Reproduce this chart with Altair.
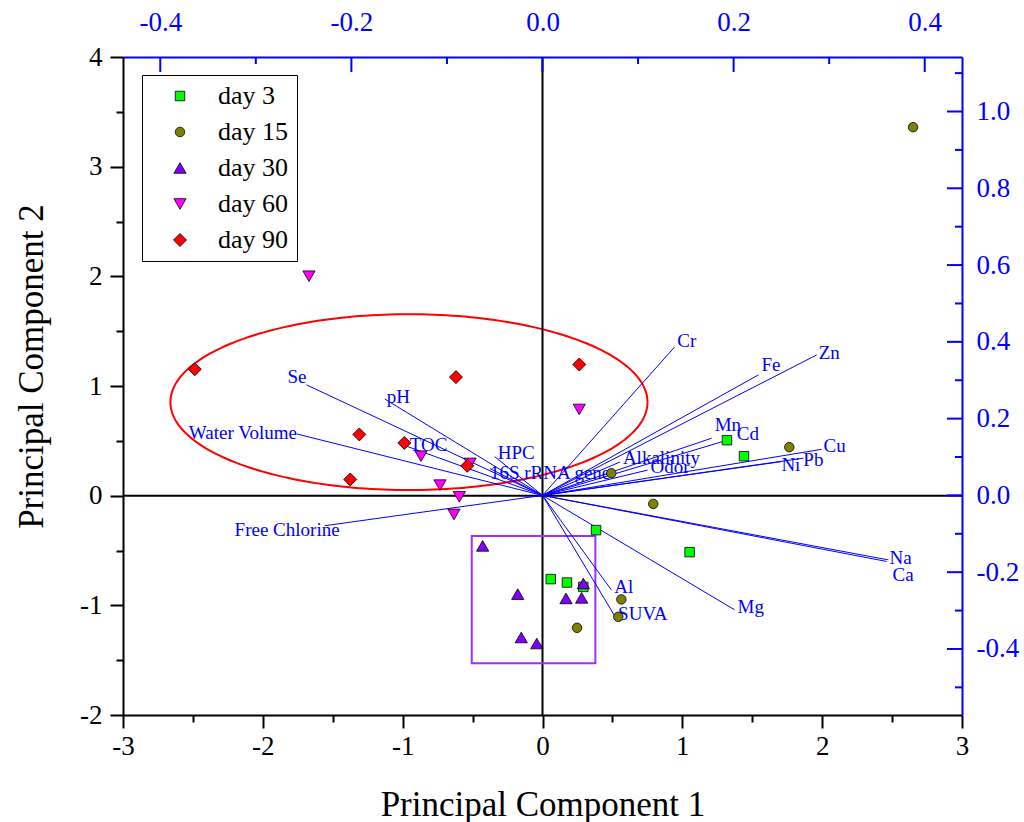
import altair as alt
import numpy as np
import pandas as pd

# ---------------- sample scores (PC1, PC2) by sampling day ----------------
DAYS = ["day 3", "day 15", "day 30", "day 60", "day 90"]
DAY3_PC1 = [1.319, 1.441, 0.383, 1.052, 0.059, 0.175, 0.292]
DAY3_PC2 = [0.506, 0.360, -0.314, -0.515, -0.761, -0.792, -0.832]
DAY15_PC1 = [2.650, 1.765, 0.492, 0.792, 0.564, 0.542, 0.247]
DAY15_PC2 = [3.360, 0.442, 0.205, -0.075, -0.946, -1.105, -1.205]
DAY30_PC1 = [-0.428, -0.177, -0.152, -0.041, 0.168, 0.280, 0.292]
DAY30_PC2 = [-0.458, -0.898, -1.293, -1.348, -0.937, -0.932, -0.801]
DAY60_PC1 = [-1.670, 0.263, -0.869, -0.518, -0.733, -0.595, -0.633]
DAY60_PC2 = [2.001, 0.786, 0.360, 0.294, 0.096, -0.011, -0.171]
DAY90_PC1 = [-2.487, -0.619, -1.310, -0.988, -0.538, -1.375, 0.263]
DAY90_PC2 = [1.153, 1.081, 0.558, 0.481, 0.272, 0.148, 1.196]

# ---------------- variable loadings (top / right axes) ----------------
VARIABLES = ["Se", "pH", "Water Volume", "TOC", "HPC", "16S rRNA gene",
             "Free Chlorine", "Cr", "Fe", "Zn", "Mn", "Cd", "Alkalinity",
             "Odor", "Cu", "Pb", "Ni", "Na", "Ca", "Mg", "Al", "SUVA"]
LOAD_PC1 = [-0.247, -0.165, -0.257, -0.141, -0.050, -0.055, -0.228, 0.138,
            0.226, 0.287, 0.177, 0.195, 0.081, 0.110, 0.292, 0.273, 0.250,
            0.362, 0.360, 0.201, 0.072, 0.076]
LOAD_PC2 = [0.288, 0.251, 0.160, 0.127, 0.101, 0.070, -0.079, 0.386, 0.314,
            0.366, 0.149, 0.145, 0.087, 0.066, 0.120, 0.097, 0.088, -0.168,
            -0.172, -0.298, -0.246, -0.316]

# ---------------- group outlines ----------------
ELLIPSE_CENTER = (-0.955, 0.853)
ELLIPSE_RADII = (1.706, 0.802)
BOX_PC1 = (-0.506, 0.378)
BOX_PC2 = (-0.367, -1.527)

# ---------------- axis tick values ----------------
BOTTOM_TICKS = [-3, -2.5, -2, -1.5, -1, -0.5, 0, 0.5, 1, 1.5, 2, 2.5, 3]
LEFT_TICKS = [-2, -1.5, -1, -0.5, 0, 0.5, 1, 1.5, 2, 2.5, 3, 3.5, 4]
TOP_MAJOR = [-0.4, -0.2, 0.0, 0.2, 0.4]
TOP_MINOR = [-0.3, -0.1, 0.1, 0.3]
RIGHT_MAJOR = [-0.4, -0.2, 0.0, 0.2, 0.4, 0.6, 0.8, 1.0]
RIGHT_MINOR = [-0.5, -0.3, -0.1, 0.1, 0.3, 0.5, 0.7, 0.9, 1.1]

# label placement around the arrow tips: (align, dx, dy)
LABEL_NUDGE = {
    "Se": ("right", 0, -8), "pH": ("left", 2, -2),
    "Water Volume": ("right", 0, -1), "TOC": ("left", 2, -2),
    "HPC": ("left", 3, -4), "16S rRNA gene": ("left", 0, 4),
    "Free Chlorine": ("right", 15, 4), "Cr": ("left", 3, -6),
    "Fe": ("left", 3, -10), "Zn": ("left", 2, -2), "Mn": ("left", 3, -13),
    "Cd": ("left", 8, -6), "Alkalinity": ("left", 3, -4),
    "Odor": ("left", 3, -3), "Cu": ("left", 2, -3), "Pb": ("left", 0, 2),
    "Ni": ("left", 0, 3), "Na": ("left", 1, -2), "Ca": ("left", 6, 14),
    "Mg": ("left", 3, -3), "Al": ("left", 3, -3), "SUVA": ("left", 3, -3),
}

SERIF = "Liberation Serif"
BLUE = "#0000FF"
W, H = 839, 658

COLORS = ["#00FF00", "#808000", "#8000FF", "#FF00FF", "#FF0000"]
SHAPES = ["square", "circle", "triangle-up", "triangle-down", "diamond"]
SIZES = [90, 90, 150, 150, 170]

# ---------------- tables ----------------
scores = pd.concat([
    pd.DataFrame({"day": d, "pc1": x, "pc2": y})
    for d, x, y in zip(DAYS,
                       [DAY3_PC1, DAY15_PC1, DAY30_PC1, DAY60_PC1, DAY90_PC1],
                       [DAY3_PC2, DAY15_PC2, DAY30_PC2, DAY60_PC2, DAY90_PC2])
], ignore_index=True)

loads = pd.DataFrame({"var": VARIABLES, "lx": LOAD_PC1, "ly": LOAD_PC2,
                      "x0": 0.0, "y0": 0.0})

t = np.linspace(0, 2 * np.pi, 241)
ellipse = pd.DataFrame({
    "i": np.arange(t.size),
    "ex": ELLIPSE_CENTER[0] + ELLIPSE_RADII[0] * np.cos(t),
    "ey": ELLIPSE_CENTER[1] + ELLIPSE_RADII[1] * np.sin(t),
})
box = pd.DataFrame({"bx1": [BOX_PC1[0]], "bx2": [BOX_PC1[1]],
                    "by1": [BOX_PC2[0]], "by2": [BOX_PC2[1]]})
zero = pd.DataFrame({"z": [0.0]})

# ---------------- scales & axes ----------------
X_MAIN = alt.Scale(domain=[-3, 3], nice=False, zero=False)
Y_MAIN = alt.Scale(domain=[-2, 4], nice=False, zero=False)
X_LOAD = alt.Scale(domain=[-0.439, 0.439], nice=False, zero=False)
Y_LOAD = alt.Scale(domain=[-0.572, 1.142], nice=False, zero=False)

MINOR = "abs(datum.value % 1) > 0.001"
INT_LABEL = ("abs(datum.value % 1) > 0.001 ? '' : "
             "(datum.value < 0 ? '-' + abs(datum.value) : '' + datum.value)")
DEC_LABEL = ("(datum.value < -0.0001 ? '-' : '') + "
             "format(abs(datum.value), '.1f')")
TICK_SIZE = {"condition": {"test": MINOR, "value": 7}, "value": 13}

common_black = dict(
    domainColor="black", domainWidth=2, tickColor="black", tickWidth=2,
    tickSize=TICK_SIZE, labelFont=SERIF, labelFontSize=27, labelColor="black",
    titleFont=SERIF, titleFontSize=35, titleFontWeight="normal",
    titleColor="black", grid=False, labelOverlap=False, labelFlush=False,
)
AX_BOTTOM = alt.Axis(orient="bottom", values=BOTTOM_TICKS, labelExpr=INT_LABEL,
                     labelPadding=5, title="Principal Component 1",
                     titleY=100, titleBaseline="alphabetic", **common_black)
AX_LEFT = alt.Axis(orient="left", values=LEFT_TICKS, labelExpr=INT_LABEL,
                   labelPadding=8, title="Principal Component 2",
                   titleX=-81, titleY=H / 2 - 20, titleBaseline="alphabetic",
                   **common_black)

common_blue = dict(
    domainColor=BLUE, domainWidth=2, ticks=False, tickSize=0,
    labelFont=SERIF, labelFontSize=27, labelColor=BLUE, labelExpr=DEC_LABEL,
    title=None, grid=False, labelOverlap=False, labelFlush=False,
)
AX_TOP = alt.Axis(orient="top", values=TOP_MAJOR, labelPadding=21, **common_blue)
AX_RIGHT = alt.Axis(orient="right", values=RIGHT_MAJOR, labelPadding=14,
                    **common_blue)


def xm(field):
    return alt.X(field, type="quantitative", scale=X_MAIN, axis=AX_BOTTOM)


def ym(field):
    return alt.Y(field, type="quantitative", scale=Y_MAIN, axis=AX_LEFT)


def xl(field):
    return alt.X(field, type="quantitative", scale=X_LOAD, axis=AX_TOP)


def yl(field):
    return alt.Y(field, type="quantitative", scale=Y_LOAD, axis=AX_RIGHT)


# ---------------- background: zero lines, ellipse, box ----------------
zero_v = alt.Chart(zero).mark_rule(color="black", strokeWidth=2).encode(x=xm("z"))
zero_h = alt.Chart(zero).mark_rule(color="black", strokeWidth=2).encode(y=ym("z"))
ell = alt.Chart(ellipse).mark_line(color="#FF0000", strokeWidth=2).encode(
    x=xm("ex"), y=ym("ey"), order="i:Q")
rect = alt.Chart(box).mark_rect(fill=None, stroke="#9B30FF", strokeWidth=2).encode(
    x=xm("bx1"), x2="bx2", y=ym("by1"), y2="by2")
background = alt.layer(ell, zero_v, zero_h, rect)

# ---------------- loadings: arrows, labels, blue axis ticks ----------------
vec = alt.Chart(loads).mark_rule(color=BLUE, strokeWidth=1).encode(
    x=xl("x0"), y=yl("y0"), x2="lx", y2="ly")

label_layers = []
for name in VARIABLES:
    align, dx, dy = LABEL_NUDGE[name]
    label_layers.append(
        alt.Chart(loads).transform_filter(alt.datum.var == name).mark_text(
            font=SERIF, fontSize=19, color=BLUE, align=align,
            baseline="middle", dx=dx, dy=dy,
        ).encode(x=xl("lx"), y=yl("ly"), text="var:N")
    )


def hticks(vals, length):
    return alt.Chart(pd.DataFrame({"v": vals})).mark_rule(
        color=BLUE, strokeWidth=2).encode(
        x=xl("v"), y=alt.value(0), y2=alt.value(length))


def vticks(vals, length):
    return alt.Chart(pd.DataFrame({"v": vals})).mark_rule(
        color=BLUE, strokeWidth=2).encode(
        y=yl("v"), x=alt.value(W), x2=alt.value(W - length))


loadings = alt.layer(vec, *label_layers,
                     hticks(TOP_MAJOR, 15), hticks(TOP_MINOR, 7),
                     vticks(RIGHT_MAJOR, 15), vticks(RIGHT_MINOR, 7))

# ---------------- sample scores ----------------
points = alt.Chart(scores).mark_point(
    filled=True, stroke="black", strokeWidth=0.8, opacity=1).encode(
    x=alt.X("pc1:Q", scale=X_MAIN, axis=None),
    y=alt.Y("pc2:Q", scale=Y_MAIN, axis=None),
    color=alt.Color("day:N", scale=alt.Scale(domain=DAYS, range=COLORS),
                    legend=alt.Legend(
                        title=None, orient="none", legendX=19, legendY=18,
                        padding=8, strokeColor="black", fillColor="white",
                        labelFont=SERIF, labelFontSize=26, labelColor="black",
                        rowPadding=10, symbolOffset=17, labelOffset=25,
                        symbolStrokeColor="black", symbolStrokeWidth=0.8)),
    shape=alt.Shape("day:N", scale=alt.Scale(domain=DAYS, range=SHAPES)),
    size=alt.Size("day:N", scale=alt.Scale(type="ordinal", domain=DAYS,
                                           range=SIZES)),
)

chart = alt.layer(background, loadings, points).resolve_scale(
    x="independent", y="independent"
).properties(
    width=W, height=H,
    autosize=alt.AutoSizeParams(type="none"),
    padding={"left": 123, "top": 57, "right": 62, "bottom": 107},
).configure_view(stroke=None).configure(background="white")

chart.save("out.html", embed_options={"renderer": "svg", "actions": False})
